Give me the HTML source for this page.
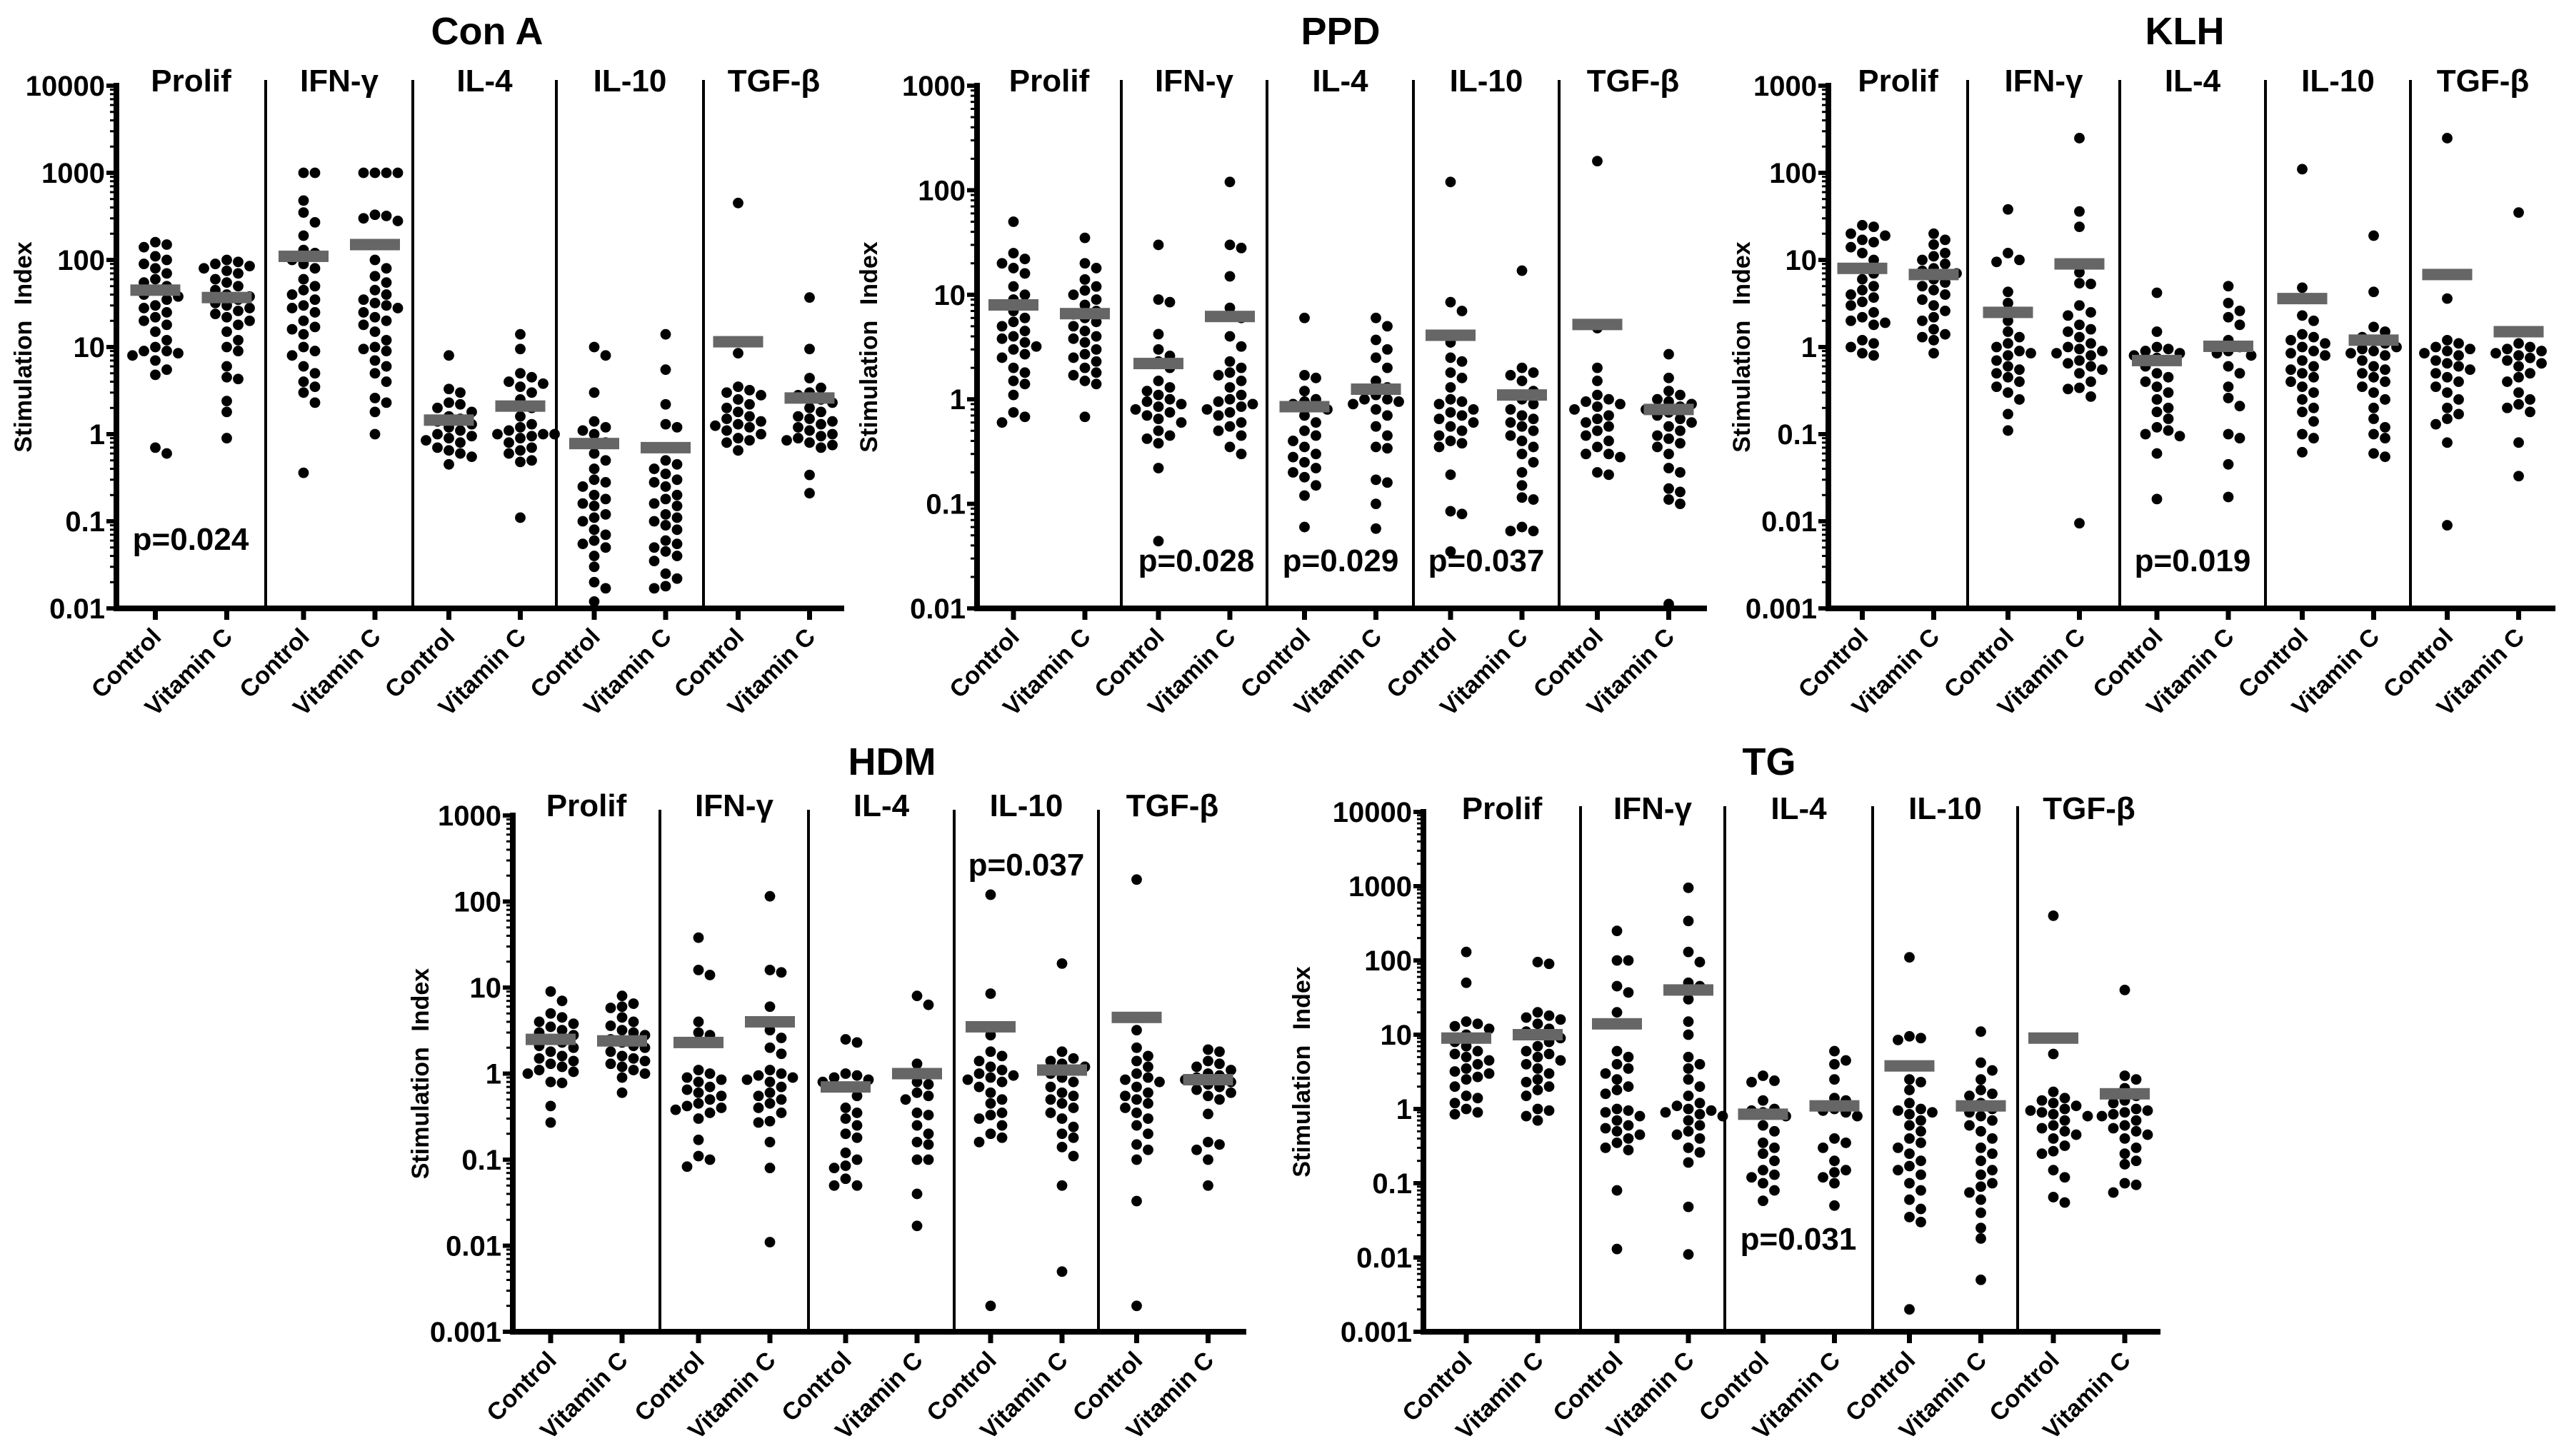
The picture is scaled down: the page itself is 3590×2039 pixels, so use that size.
<!DOCTYPE html>
<html><head><meta charset="utf-8"><title>Stimulation Index by antigen</title>
<style>
html,body{margin:0;padding:0;background:#fff;}
svg{display:block;font-family:"Liberation Sans Narrow","Liberation Sans",Arial,sans-serif;font-weight:bold;}
</style></head>
<body>
<svg id="fig" xmlns="http://www.w3.org/2000/svg" width="3590" height="2039" viewBox="0 0 3590 2039"></svg>
<script>
// ---------- DATA ----------
const groupNames = ["Prolif","IFN-\u03b3","IL-4","IL-10","TGF-\u03b2"];
const armNames = ["Control","Vitamin C"];

const conaControl = [
 [150,140,160,110,100,90,80,70,60,55,50,45,40,38,35,30,28,25,22,20,18,15,12,10,9,9,8.5,8,7,5.5,4.8,0.7,0.6],
 [1000,1000,480,350,270,190,130,120,100,90,80,60,50,45,40,35,30,28,25,20,17,16,14,10,9,8,6,5,4,3.5,3,2.3,0.36],
 [8,3.3,3,2.3,2.2,2,1.8,1.6,1.5,1.4,1.3,1.2,1.1,1,0.95,0.9,0.85,0.8,0.7,0.65,0.6,0.55,0.45],
 [10,8,3,1.4,1.2,1.1,1,0.8,0.6,0.5,0.4,0.3,0.28,0.25,0.2,0.18,0.16,0.15,0.12,0.11,0.1,0.08,0.07,0.06,0.055,0.05,0.04,0.03,0.02,0.017,0.012],
 [450,8.5,3.5,3.2,3,2.8,2.5,2.2,2,1.8,1.6,1.5,1.4,1.3,1.25,1.2,1.1,1,0.9,0.85,0.8,0.65]
];
const conaVitC = [
 [100,95,90,85,80,75,70,60,55,50,45,40,38,35,32,30,28,26,24,22,20,18,15,12,10,9,6,4.5,4.3,2.4,1.8,0.9],
 [1000,1000,1000,1000,330,320,300,280,100,80,65,55,45,40,35,32,30,28,25,22,20,18,15,12,10,9.5,9,7,6,5,4,2.6,2.3,1.8,1],
 [14,9.5,5,4.5,4,3.8,3.5,3,2.5,2,1.6,1.3,1.2,1.1,1,1,1,0.95,0.9,0.8,0.7,0.65,0.6,0.5,0.48,0.11],
 [14,5.5,2.2,1.3,1.2,0.5,0.45,0.4,0.35,0.3,0.28,0.25,0.2,0.18,0.16,0.15,0.12,0.11,0.1,0.09,0.08,0.06,0.055,0.05,0.045,0.04,0.035,0.025,0.022,0.018,0.017],
 [37,9.5,4.4,3.4,3,2.8,2.5,2.3,2,1.8,1.6,1.5,1.4,1.3,1.2,1.1,1,0.95,0.9,0.85,0.8,0.75,0.7,0.34,0.21]
];
const conaMeans = [[45,37],[110,150],[1.45,2.1],[0.78,0.7],[11.5,2.6]];

const ppdControl = [
 [50,25,22,20,18,16,12,10,9,8,7,6,5.5,5,4.5,4,3.8,3.5,3.2,3,2.7,2.5,2,1.8,1.5,1.4,1.1,0.75,0.68,0.6],
 [30,9,8.5,4.2,3,2.6,2.3,2,1.5,1.3,1.2,1.1,1,0.95,0.9,0.85,0.8,0.75,0.7,0.65,0.6,0.5,0.45,0.42,0.38,0.22,0.044],
 [6,1.7,1.6,1.2,1,0.95,0.9,0.8,0.7,0.6,0.5,0.45,0.4,0.35,0.3,0.28,0.25,0.22,0.2,0.18,0.15,0.12,0.06],
 [120,8.5,7,3.5,2.5,2.3,1.8,1.6,1.3,1,0.95,0.9,0.8,0.75,0.7,0.65,0.6,0.55,0.5,0.45,0.4,0.38,0.35,0.19,0.085,0.08,0.035],
 [190,4.8,2,1.5,1.1,1,0.95,0.9,0.85,0.8,0.7,0.65,0.6,0.55,0.5,0.45,0.4,0.35,0.3,0.3,0.28,0.2,0.19]
];
const ppdVitC = [
 [35,20,18,14,12,11,10,9,8,7,6.5,6,5.5,5,4.5,4,3.8,3.5,3,2.7,2.5,2.3,2,1.8,1.7,1.5,1.4,0.68],
 [120,30,28,15,7.5,6,4,3.2,2.3,2,1.8,1.7,1.5,1.3,1.1,1,0.95,0.9,0.85,0.8,0.75,0.7,0.6,0.55,0.5,0.45,0.35,0.3],
 [6,5,3.7,3,2.5,2,1.5,1.3,1.1,1,1,0.95,0.9,0.8,0.7,0.55,0.45,0.35,0.34,0.17,0.16,0.1,0.058],
 [17,2,1.8,1.7,1.5,1.2,1,0.9,0.8,0.7,0.65,0.6,0.55,0.5,0.45,0.4,0.35,0.3,0.25,0.2,0.15,0.115,0.11,0.06,0.055,0.055],
 [2.7,1.6,1.2,1.1,1,0.95,0.9,0.85,0.8,0.75,0.7,0.65,0.6,0.55,0.5,0.45,0.42,0.38,0.35,0.3,0.22,0.2,0.14,0.13,0.11,0.1,0.011]
];
const ppdMeans = [[8,6.6],[2.2,6.2],[0.85,1.25],[4.1,1.1],[5.2,0.8]];

const klhControl = [
 [25,24,20,19,17,16,14,12,10,8,7,6,5,4.5,4,3.7,3.3,3,2.5,2.2,2,1.9,1.8,1.2,1.1,1,0.85,0.8],
 [38,12,10,9.5,4.3,3.2,2.5,2,1.5,1.3,1.1,1,0.9,0.85,0.8,0.7,0.6,0.55,0.5,0.45,0.4,0.35,0.3,0.25,0.17,0.11],
 [4.2,1.5,1,0.95,0.9,0.85,0.8,0.75,0.7,0.6,0.5,0.45,0.4,0.35,0.3,0.25,0.2,0.18,0.15,0.12,0.11,0.1,0.095,0.06,0.018],
 [110,4.8,2.3,2,1.4,1.3,1.2,1.1,1,0.9,0.85,0.8,0.7,0.6,0.55,0.5,0.45,0.4,0.35,0.3,0.25,0.2,0.18,0.14,0.1,0.09,0.062],
 [250,3.6,1.2,1.1,1,0.95,0.9,0.85,0.8,0.7,0.65,0.6,0.55,0.5,0.45,0.4,0.35,0.3,0.25,0.2,0.17,0.15,0.13,0.08,0.009]
];
const klhVitC = [
 [20,17,15,12,11,10,9,8,7.5,7,6,5.5,5,4.5,4,3.5,3,2.6,2.2,2,1.6,1.4,1.3,1.2,0.85],
 [250,36,24,7.2,5.4,5.3,3,2.5,2.3,1.8,1.6,1.5,1.3,1.1,1,0.95,0.9,0.85,0.8,0.7,0.65,0.6,0.55,0.5,0.4,0.34,0.33,0.27,0.0095],
 [5,3.2,2.6,2.2,1.8,1.2,1,0.9,0.85,0.8,0.6,0.5,0.35,0.26,0.21,0.1,0.09,0.045,0.019],
 [19,4.3,1.7,1.5,1.3,1.2,1.1,1,0.95,0.9,0.85,0.8,0.7,0.6,0.55,0.5,0.45,0.4,0.35,0.3,0.25,0.2,0.15,0.12,0.1,0.09,0.06,0.055],
 [35,1.5,1.1,1,0.95,0.9,0.85,0.8,0.75,0.7,0.65,0.6,0.5,0.45,0.4,0.3,0.25,0.22,0.2,0.18,0.08,0.033]
];
const klhMeans = [[8,6.8],[2.5,9],[0.7,1.02],[3.6,1.2],[6.8,1.5]];

const hdmControl = [
 [9,7,5,4.5,4,3.8,3.5,3.2,3,2.8,2.5,2.3,2.1,2,1.8,1.6,1.5,1.4,1.3,1.2,1.1,1.05,1,0.8,0.78,0.42,0.27],
 [38,16,14,4,3,2.8,1.1,1,0.9,0.85,0.8,0.7,0.65,0.6,0.55,0.5,0.45,0.42,0.4,0.38,0.35,0.3,0.17,0.11,0.1,0.083],
 [2.5,2.3,1,0.95,0.9,0.85,0.8,0.7,0.55,0.4,0.35,0.3,0.25,0.2,0.18,0.12,0.1,0.085,0.08,0.06,0.05,0.05],
 [120,8.5,2.8,1.8,1.6,1.4,1.2,1.1,1,0.95,0.9,0.85,0.8,0.7,0.6,0.5,0.45,0.35,0.33,0.3,0.25,0.2,0.18,0.16,0.002],
 [180,3.2,2,1.6,1.4,1.2,1,0.9,0.85,0.8,0.7,0.6,0.55,0.5,0.45,0.4,0.35,0.3,0.25,0.2,0.15,0.13,0.1,0.033,0.002]
];
const hdmVitC = [
 [8,6.5,6,5.8,4.5,4,3.6,3.2,3,2.8,2.5,2.3,2.1,2,1.8,1.6,1.5,1.4,1.3,1.2,1.1,1,0.9,0.6],
 [115,16,15,6,3.2,2.6,2,1.7,1.1,1,0.95,0.9,0.85,0.8,0.7,0.6,0.55,0.5,0.45,0.4,0.35,0.28,0.27,0.16,0.08,0.011],
 [8,6.3,1.3,0.8,0.75,0.6,0.55,0.5,0.35,0.33,0.25,0.2,0.16,0.15,0.1,0.1,0.04,0.017],
 [19,1.8,1.5,1.4,1.3,1.2,1.1,1,0.9,0.8,0.7,0.6,0.55,0.5,0.45,0.4,0.35,0.3,0.24,0.2,0.18,0.14,0.11,0.05,0.005],
 [1.9,1.8,1.4,1.3,1.2,1.1,1,0.95,0.9,0.85,0.8,0.75,0.7,0.65,0.6,0.55,0.5,0.34,0.16,0.15,0.13,0.1,0.05]
];
const hdmMeans = [[2.5,2.4],[2.3,4],[0.7,1],[3.5,1.1],[4.5,0.85]];

const tgControl = [
 [130,50,15,14,13,12,10,9,8,7,6,5.5,5,4.5,4,3.5,3.2,3,2.7,2.5,2,1.5,1.4,1.2,1,0.9,0.85],
 [250,100,100,45,37,20,6,5,4,3.5,3,2.5,2,1.8,1.6,1,0.95,0.9,0.8,0.7,0.6,0.55,0.5,0.45,0.4,0.35,0.3,0.28,0.08,0.013],
 [2.8,2.4,2.3,1.3,1,0.95,0.9,0.8,0.6,0.5,0.35,0.3,0.25,0.2,0.15,0.13,0.12,0.1,0.08,0.058],
 [110,9.5,9,8.5,2.5,2.3,1.8,1.2,1,0.95,0.9,0.85,0.7,0.6,0.5,0.4,0.35,0.3,0.25,0.2,0.17,0.15,0.13,0.1,0.08,0.06,0.045,0.035,0.03,0.002],
 [400,5.5,1.7,1.4,1.3,1.2,1.1,1,0.95,0.9,0.85,0.8,0.7,0.6,0.55,0.5,0.45,0.4,0.32,0.27,0.25,0.15,0.12,0.065,0.055]
];
const tgVitC = [
 [95,90,20,18,17,16,14,12,11,10,9,8,7,6,5.5,5,4.5,4,3.5,3,2.5,2.3,2,1.8,1.5,1,0.95,0.8,0.7],
 [950,340,130,95,50,45,30,15,10,5,4,3.5,2.5,2,1.5,1.2,1.1,1,0.95,0.9,0.85,0.8,0.7,0.6,0.5,0.45,0.4,0.3,0.26,0.19,0.048,0.011],
 [6,4.5,4,2.5,1.4,1.3,1,0.95,0.9,0.8,0.4,0.35,0.3,0.2,0.15,0.14,0.12,0.1,0.05],
 [11,4.2,3.3,2.5,1.8,1.6,1.5,1.2,1,0.9,0.8,0.7,0.6,0.5,0.4,0.3,0.25,0.2,0.15,0.13,0.1,0.09,0.075,0.06,0.04,0.025,0.018,0.005],
 [40,2.8,2.5,1.9,1.5,1.3,1.2,1,0.95,0.9,0.85,0.8,0.7,0.6,0.55,0.5,0.45,0.4,0.3,0.25,0.2,0.18,0.1,0.095,0.075]
];
const tgMeans = [[9,10],[14,40],[0.85,1.1],[3.8,1.1],[9,1.6]];

const tickLabels6a = ["0.01","0.1","1","10","100","1000","10000"];
const tickLabels5 = ["0.01","0.1","1","10","100","1000"];
const tickLabels6b = ["0.001","0.01","0.1","1","10","100","1000"];
const tickLabels7 = ["0.001","0.01","0.1","1","10","100","1000","10000"];

const conaPvals = ["p=0.024"]; const ppdPvals = ["p=0.028","p=0.029","p=0.037"];
const klhPvals = ["p=0.019"]; const hdmPvals = ["p=0.037"]; const tgPvals = ["p=0.031"];

// ---------- LAYOUT ----------
const NS = "http://www.w3.org/2000/svg";
const svg = document.getElementById('fig');
function mk(tag, attrs, parent){
  const e = document.createElementNS(NS, tag);
  for (const k in attrs) e.setAttribute(k, attrs[k]);
  (parent||svg).appendChild(e);
  return e;
}

const panels = [
 {key:"con-a", title:"Con A", tx:682, ty:62, ax:163, div:[372,578,779,985], end:1182, top:120, bot:852, lo:-2, hi:4, ticks:tickLabels6a, sy:128, lx:44,
  ctl:conaControl, vit:conaVitC, means:conaMeans, pv:conaPvals, pvPos:[[267,770]]},
 {key:"ppd", title:"PPD", tx:1877, ty:62, ax:1368, div:[1570,1774,1979,2183], end:2390, top:120, bot:852, lo:-2, hi:3, ticks:tickLabels5, sy:128, lx:1228,
  ctl:ppdControl, vit:ppdVitC, means:ppdMeans, pv:ppdPvals, pvPos:[[1675,800],[1877,800],[2081,800]]},
 {key:"klh", title:"KLH", tx:3059, ty:62, ax:2560, div:[2755,2968,3172,3375], end:3578, top:120, bot:852, lo:-3, hi:3, ticks:tickLabels6b, sy:128, lx:2450,
  ctl:klhControl, vit:klhVitC, means:klhMeans, pv:klhPvals, pvPos:[[3070,800]]},
 {key:"hdm", title:"HDM", tx:1249, ty:1085, ax:718, div:[924,1132,1336,1538], end:1745, top:1142, bot:1865, lo:-3, hi:3, ticks:tickLabels6b, sy:1143, lx:600,
  ctl:hdmControl, vit:hdmVitC, means:hdmMeans, pv:hdmPvals, pvPos:[[1437,1226]]},
 {key:"tg", title:"TG", tx:2477, ty:1085, ax:1993, div:[2213,2415,2622,2825], end:3025, top:1137, bot:1865, lo:-3, hi:4, ticks:tickLabels7, sy:1147, lx:1834,
  ctl:tgControl, vit:tgVitC, means:tgMeans, pv:tgPvals, pvPos:[[2518,1750]]}
];

const R = 7.4;

function drawPanel(P){
  const g = mk('g', {});
  
  
  const yScale = v => P.bot - (Math.log10(v) - P.lo) / (P.hi - P.lo) * (P.bot - P.top);

  const t = mk('text', {x:P.tx, y:P.ty, 'text-anchor':'middle', 'font-size':54}, g);
  t.textContent = P.title;
  
  

  const midY = (P.top + P.bot) / 2;
  const yl = mk('text', {x:P.lx, y:midY, 'text-anchor':'middle', 'font-size':34, transform:`rotate(-90 ${P.lx} ${midY})`, 'font-family':'"Liberation Sans",sans-serif', 'word-spacing':'12'}, g);
  yl.textContent = "Stimulation  Index";
  
  

  const ya = mk('line', {x1:P.ax, y1:P.top-4, x2:P.ax, y2:P.bot+4, stroke:'#000', 'stroke-width':8}, g);
  
  
  P.ticks.forEach((lab, i) => {
    const v = Math.pow(10, P.lo + i);
    const y = yScale(v);
    mk('line', {x1:P.ax-14, y1:y, x2:P.ax, y2:y, stroke:'#000', 'stroke-width':6}, g);
    const tl = mk('text', {x:P.ax-16, y:y+14, 'text-anchor':'end', 'font-size':40}, g);
    tl.textContent = lab;
    
    
    if (i < P.ticks.length - 1) {
      for (let m = 2; m <= 9; m++) {
        const ym = yScale(v * m);
        mk('line', {x1:P.ax-9, y1:ym, x2:P.ax, y2:ym, stroke:'#000', 'stroke-width':3}, g);
      }
    }
  });

  const xa = mk('line', {x1:P.ax-4, y1:P.bot, x2:P.end, y2:P.bot, stroke:'#000', 'stroke-width':8}, g);
  
  

  P.div.forEach(d => {
    const dl = mk('line', {x1:d, y1:P.top-8, x2:d, y2:P.bot, stroke:'#000', 'stroke-width':4}, g);
    
    
  });

  const bounds = [P.ax].concat(P.div).concat([P.end]);
  for (let gi = 0; gi < 5; gi++) {
    const cx = (bounds[gi] + bounds[gi+1]) / 2;
    const st = mk('text', {x:cx, y:P.sy, 'text-anchor':'middle', 'font-size':44}, g);
    st.textContent = groupNames[gi];
    
    
    const sets = [P.ctl[gi], P.vit[gi]];
    [cx - 50, cx + 50].forEach((x, ai) => {
      mk('line', {x1:x, y1:P.bot, x2:x, y2:P.bot+16, stroke:'#000', 'stroke-width':7}, g);
      const cl = mk('text', {x:0, y:0, 'text-anchor':'end', 'font-size':34, 'font-family':'"Liberation Sans",sans-serif', transform:`translate(${x+10} ${P.bot+42}) rotate(-45)`}, g);
      cl.textContent = armNames[ai];
      
      
      const vals = sets[ai].slice().sort((a,b)=>b-a);
      const placed = [];
      vals.forEach(v => {
        const y = yScale(v);
        let best = 0, bestD = -1;
        for (let k = 0; k <= 6; k++) {
          const cand = (k === 0) ? 0 : ((k % 2) ? 1 : -1) * Math.ceil(k/2) * 16;
          let md = Infinity;
          placed.forEach(p => { md = Math.min(md, Math.hypot(p[0]-(x+cand), p[1]-y)); });
          if (md >= 2*R) { best = cand; bestD = Infinity; break; }
          if (md > bestD) { bestD = md; best = cand; }
        }
        placed.push([x+best, y]);
        const c = mk('circle', {cx:x+best, cy:y, r:R, fill:'#000'}, g);
        
        
      });
      const ym = yScale(P.means[gi][ai]);
      const mb = mk('rect', {x:x-35, y:ym-8, width:70, height:16, fill:'#666'}, g);
      
      
    });
  }

  P.pv.forEach((s, i) => {
    const p = mk('text', {x:P.pvPos[i][0], y:P.pvPos[i][1], 'text-anchor':'middle', 'font-size':44}, g);
    p.textContent = s;
    
    
  });
}

panels.forEach(drawPanel);
</script>
</body></html>
